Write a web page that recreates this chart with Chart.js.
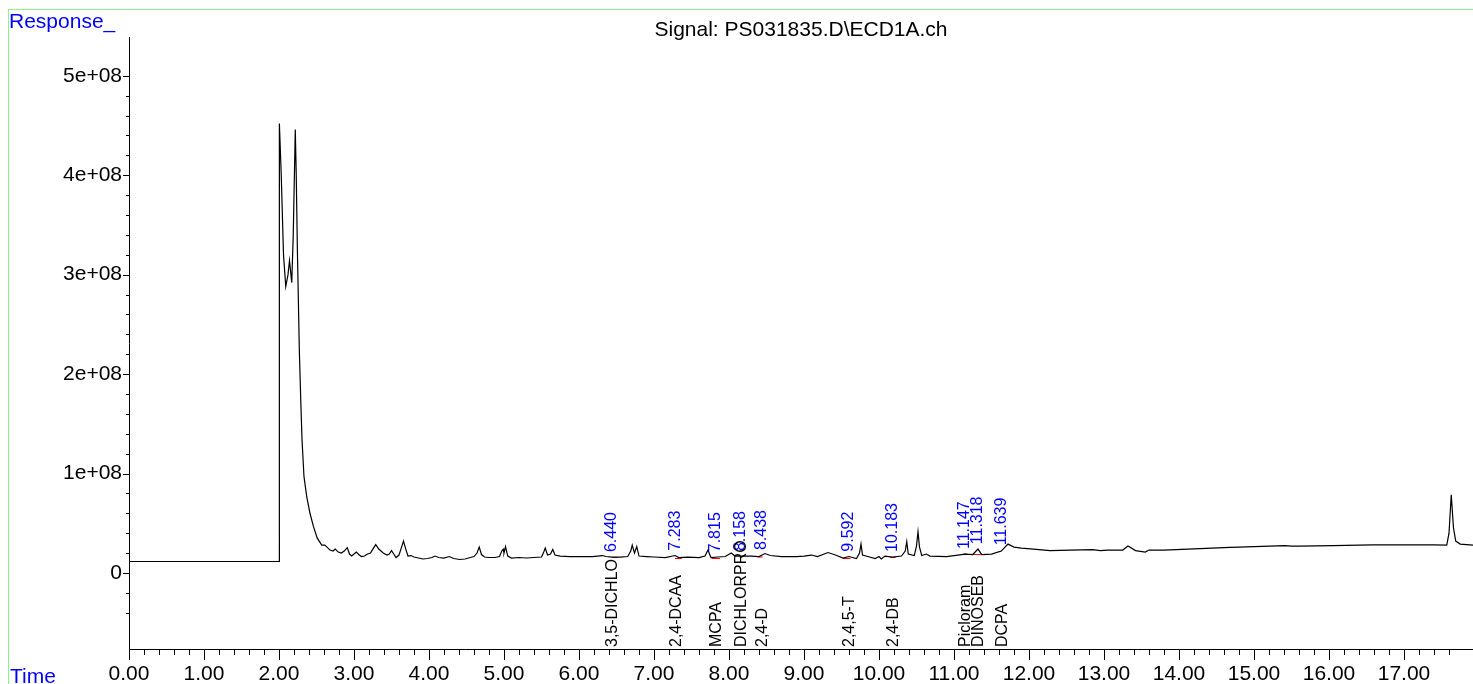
<!DOCTYPE html>
<html>
<head>
<meta charset="utf-8">
<title>Signal: PS031835.D\ECD1A.ch</title>
<script src="https://cdn.jsdelivr.net/npm/chart.js@4.4.1/dist/chart.umd.min.js"></script>
<style>
  html, body { margin: 0; padding: 0; background: #fff; }
  canvas { display: block; }
</style>
</head>
<body>
<canvas id="chromChart" width="1473" height="684"></canvas>
<script>
// retention time (min) and detector response (units of 1e6)
var traceTime = [
  0.00, 2.00, 2.005, 2.03, 2.06, 2.09, 2.12, 2.14, 2.17, 2.19, 2.217, 2.23, 2.245, 2.258, 2.271, 2.29,
  2.307, 2.333, 2.369, 2.413, 2.458, 2.51, 2.57, 2.61, 2.64, 2.68, 2.72, 2.75, 2.79, 2.83, 2.87, 2.91, 2.94,
  2.97, 3.00, 3.03, 3.07, 3.10, 3.14, 3.18, 3.22, 3.26, 3.29, 3.33, 3.39, 3.44, 3.47, 3.50, 3.53,
  3.56, 3.60, 3.63, 3.66, 3.69, 3.72, 3.76, 3.80, 3.86, 3.92, 3.98, 4.04, 4.08, 4.13, 4.20, 4.27,
  4.33, 4.41, 4.48, 4.55, 4.60, 4.64, 4.67, 4.70, 4.74, 4.80, 4.88, 4.94, 4.97, 4.99, 5.00, 5.02,
  5.05, 5.10, 5.20, 5.30, 5.40, 5.50, 5.53, 5.55, 5.58, 5.62, 5.65, 5.68, 5.75, 5.88, 6.00, 6.18,
  6.31, 6.36, 6.44, 6.55, 6.65, 6.69, 6.71, 6.74, 6.77, 6.80, 6.90, 7.00, 7.15, 7.28, 7.33, 7.45,
  7.60, 7.68, 7.72, 7.74, 7.76, 7.85, 7.95, 8.03, 8.08, 8.20, 8.30, 8.40, 8.48, 8.55, 8.70, 8.90,
  9.00, 9.10, 9.18, 9.32, 9.42, 9.52, 9.60, 9.70, 9.74, 9.76, 9.78, 9.85, 9.95, 10.00, 10.03, 10.08,
  10.18, 10.30, 10.35, 10.37, 10.39, 10.47, 10.50, 10.52, 10.54, 10.57, 10.63, 10.68, 10.90, 11.15, 11.25, 11.32,
  11.37, 11.50, 11.63, 11.72, 11.80, 11.90, 12.06, 12.28, 12.55, 12.85, 12.95, 13.05, 13.25, 13.32, 13.42, 13.55,
  13.60, 13.80, 14.28, 14.68, 14.80, 15.41, 15.50, 15.60, 16.05, 16.40, 16.59, 17.00, 17.40, 17.57, 17.60, 17.63,
  17.66, 17.69, 17.75, 17.92
];
var traceResponse = [
  11.5, 11.5, 452, 400, 320, 288, 300, 314, 292, 340, 446, 400, 325, 275, 224, 174,
  134, 97, 77, 60, 47, 35, 28, 28, 26, 23, 22, 24, 21, 20, 22, 25.5, 19,
  17, 19, 21, 18, 16.5, 17, 19, 20, 25, 28.5, 24, 20, 18, 19, 22.5, 19,
  15.5, 18, 25, 32, 24, 17, 17.5, 16, 15, 14, 14.5, 15.5, 17, 15.5, 15, 16.5,
  14.5, 13.5, 14, 15.5, 16.5, 20, 26, 18.5, 16, 15.5, 15.5, 16.5, 22, 24, 20, 26.5,
  17, 15, 15.5, 15, 15.5, 16, 21, 25, 18, 19, 23.5, 18, 17, 16.5, 16.5, 16.5,
  17.5, 16.5, 16, 16, 16.5, 22, 28, 20, 26.5, 17, 16.5, 16, 15.5, 17.5, 15.5, 16,
  15.5, 17, 23, 19, 15.5, 16, 16.5, 20, 17, 17, 17, 16.5, 19.5, 17.5, 16.5, 16.5,
  17, 18, 16.5, 20.5, 18, 15, 16.5, 14.5, 20, 29, 18, 16.5, 14.5, 16.5, 14, 17,
  16, 17, 22, 31.5, 19, 17.5, 27, 41.5, 26, 17.5, 19, 17, 16.5, 19, 18.5, 24,
  18.5, 19, 22, 29, 26, 25, 24, 22.5, 23, 23.5, 22.5, 23, 23, 27, 22.5, 21,
  23, 23, 24.5, 25.8, 26, 27.5, 27, 27, 27.5, 28, 28.2, 28.3, 28.2, 28, 40, 78.5,
  45, 32, 29, 28
];

// integrated peaks
var peakTimes = [6.440, 7.283, 7.815, 8.158, 8.438, 9.592, 10.183, 11.147, 11.318, 11.639];
var peakNames = ["3,5-DICHLO", "2,4-DCAA", "MCPA", "DICHLORPRO", "2,4-D", "2,4,5-T", "2,4-DB", "Picloram", "DINOSEB", "DCPA"];

// red integration baseline marks
var baseStart = [6.44, 7.28, 7.77, 8.38, 9.52, 10.15, 11.12, 11.25, 11.59];
var baseEnd = [6.51, 7.37, 7.88, 8.45, 9.62, 10.22, 11.17, 11.41, 11.63];
var baseLevel = [15.5, 14.5, 14.5, 16, 14.5, 15.5, 19, 18.5, 21.5];

var xTickLabels = ["0.00", "1.00", "2.00", "3.00", "4.00", "5.00", "6.00", "7.00", "8.00", "9.00",
  "10.00", "11.00", "12.00", "13.00", "14.00", "15.00", "16.00", "17.00"];
var yTickLabels = ["0", "1e+08", "2e+08", "3e+08", "4e+08", "5e+08"];

var FONT = '"Liberation Sans", Arial, sans-serif';

function isWhole(v, step) {
  var r = v / step;
  return Math.abs(r - Math.round(r)) < 1e-6;
}

function responseAt(t) {
  for (var i = 1; i < traceTime.length; i++) {
    if (traceTime[i] >= t) {
      var f = (t - traceTime[i - 1]) / (traceTime[i] - traceTime[i - 1]);
      return traceResponse[i - 1] + f * (traceResponse[i] - traceResponse[i - 1]);
    }
  }
  return traceResponse[traceResponse.length - 1];
}

var tracePoints = traceTime.map(function (t, i) { return { x: t, y: traceResponse[i] }; });

var basePoints = [];
baseStart.forEach(function (s, i) {
  basePoints.push({ x: s, y: baseLevel[i] });
  basePoints.push({ x: baseEnd[i], y: baseLevel[i] });
  basePoints.push({ x: baseEnd[i], y: null });
});

var decorPlugin = {
  id: "decor",
  beforeDraw: function (chart) {
    var ctx = chart.ctx;
    ctx.save();
    ctx.strokeStyle = "#8ef08e";
    ctx.lineWidth = 1;
    ctx.strokeRect(8.5, 9.5, chart.width + 10, chart.height + 10);
    ctx.restore();
  },
  afterDraw: function (chart) {
    var ctx = chart.ctx;
    var xs = chart.scales.x;
    var ys = chart.scales.y;
    var area = chart.chartArea;

    ctx.save();
    ctx.strokeStyle = "#000";
    ctx.lineWidth = 1;
    ctx.beginPath();
    xs.ticks.forEach(function (tk) {
      var px = Math.round(xs.getPixelForValue(tk.value)) + 0.5;
      var len = isWhole(tk.value, 1) ? 11 : 6;
      ctx.moveTo(px, area.bottom);
      ctx.lineTo(px, area.bottom + len);
    });
    ys.ticks.forEach(function (tk) {
      var py = Math.round(ys.getPixelForValue(tk.value)) + 0.5;
      var len = isWhole(tk.value, 100) ? 6 : 3;
      ctx.moveTo(area.left, py);
      ctx.lineTo(area.left - len, py);
    });
    ctx.stroke();

    // retention times (blue) above trace, compound names (black) above axis
    ctx.font = "16px " + FONT;
    ctx.textBaseline = "middle";
    ctx.textAlign = "left";
    peakTimes.forEach(function (t, i) {
      var px = xs.getPixelForValue(t);
      var py = ys.getPixelForValue(responseAt(t)) - 5;
      ctx.save();
      ctx.translate(px, py);
      ctx.rotate(-Math.PI / 2);
      ctx.fillStyle = "#0000ff";
      ctx.fillText(t.toFixed(3), 0, 0);
      ctx.restore();

      ctx.save();
      ctx.translate(px + 1, area.bottom - 2);
      ctx.rotate(-Math.PI / 2);
      ctx.fillStyle = "#000";
      ctx.fillText(peakNames[i], 0, 0);
      ctx.restore();
    });

    ctx.font = "21px " + FONT;
    ctx.textBaseline = "alphabetic";
    ctx.fillStyle = "#0000ff";
    ctx.textAlign = "left";
    ctx.fillText("Response_", 9, 28);
    ctx.fillText("Time", 10, 683);

    ctx.fillStyle = "#000";
    ctx.textAlign = "center";
    ctx.fillText("Signal: PS031835.D\\ECD1A.ch", (area.left + area.right) / 2, 36);
    ctx.restore();
  },
};

var ctx = document.getElementById("chromChart").getContext("2d");
var chartInstance = new Chart(ctx, {
  type: "line",
  data: {
    datasets: [
      {
        label: "ECD1A",
        data: tracePoints,
        borderColor: "#000",
        borderWidth: 1.2,
        pointRadius: 0,
        tension: 0,
        fill: false,
      },
      {
        label: "baseline",
        data: basePoints,
        borderColor: "#ff0000",
        borderWidth: 1,
        pointRadius: 0,
        spanGaps: false,
        fill: false,
      },
    ],
  },
  options: {
    responsive: false,
    animation: false,
    events: [],
    layout: { padding: { top: 37, left: 0, right: 0, bottom: 0 } },
    plugins: {
      legend: { display: false },
      tooltip: { enabled: false },
      title: { display: false },
    },
    scales: {
      x: {
        type: "linear",
        min: 0,
        max: 17.92,
        afterBuildTicks: function (scale) {
          scale.ticks = scale.ticks.filter(function (t) { return isWhole(t.value, 0.2); });
        },
        afterFit: function (scale) { scale.height = 35; },
        ticks: {
          stepSize: 0.2,
          autoSkip: false,
          maxRotation: 0,
          padding: 13,
          color: "#000",
          font: { family: FONT, size: 21 },
          callback: function (v) {
            return isWhole(v, 1) ? xTickLabels[Math.round(v)] : "";
          },
        },
        grid: { display: false, drawTicks: false },
        border: { display: true, color: "#000", width: 1 },
      },
      y: {
        type: "linear",
        min: -76.5,
        max: 539,
        afterBuildTicks: function (scale) {
          scale.ticks = scale.ticks.filter(function (t) { return isWhole(t.value, 20); });
        },
        afterFit: function (scale) { scale.width = 129; },
        ticks: {
          stepSize: 20,
          autoSkip: false,
          padding: 7,
          color: "#000",
          font: { family: FONT, size: 21 },
          callback: function (v) {
            if (!isWhole(v, 100) || v < 0) return "";
            return yTickLabels[Math.round(v / 100)];
          },
        },
        grid: { display: false, drawTicks: false },
        border: { display: true, color: "#000", width: 1 },
      },
    },
  },
  plugins: [decorPlugin],
});
</script>
</body>
</html>
